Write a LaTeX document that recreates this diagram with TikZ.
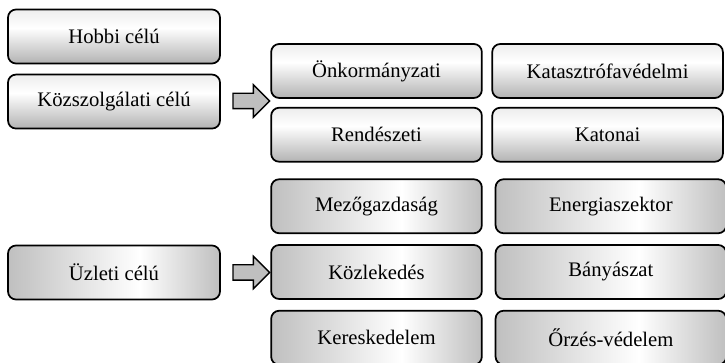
\documentclass[tikz,border=0pt]{standalone}
\usepackage{fontspec}
\setmainfont{Liberation Serif}
\usepackage{tikz}
\usetikzlibrary{positioning,shapes.arrows}

\pgfdeclareverticalshading{gloss}{100bp}{color(0bp)=(gray!60); color(25bp)=(gray!60); color(58bp)=(white); color(75bp)=(gray!14); color(100bp)=(gray!14)}
\pgfdeclarehorizontalshading{sheen}{100bp}{color(0bp)=(gray!50); color(25bp)=(gray!50); color(56bp)=(white); color(75bp)=(gray!50); color(100bp)=(gray!50)}

\begin{document}
\begin{tikzpicture}[x=0.75pt,y=-0.75pt,
    box/.style={draw,line width=1.3pt,rounded corners=6pt,inner sep=0pt,
      font=\fontsize{15.5}{18}\selectfont,minimum height=40.5pt},
    upbox/.style={box,shading=gloss},
    lowbox/.style={box,shading=sheen},
    leftw/.style={minimum width=159pt},
    midw/.style={minimum width=158pt},
    farw/.style={minimum width=173pt},
    blockarrow/.style={single arrow,draw,line width=1pt,fill=gray!50,
      single arrow head extend=6.5pt,single arrow tip angle=90,
      inner xsep=0pt,inner ysep=5.25pt,minimum height=27.5pt}]
  \useasboundingbox (0,0) rectangle (725,363);

  % kozcelu es hobbi
  \node[upbox,leftw] (hobbi) at (114,36.5) {Hobbi célú};
  \node[upbox,leftw] (kozsz) [below=7pt of hobbi] {Közszolgálati célú};
  \node[blockarrow] (nyil1) at (247.5,101) {};
  \node[upbox,midw] (onk) at (376.5,71) {Önkormányzati};
  \node[upbox,farw] (katv) [right=6.5pt of onk] {Katasztrófavédelmi};
  \node[upbox,midw] (rend) [below=6pt of onk] {Rendészeti};
  \node[upbox,farw] (katonai) [right=6.5pt of rend] {Katonai};

  % uzleti
  \node[lowbox,leftw] (uzleti) at (114,272.5) {Üzleti célú};
  \node[blockarrow] (nyil2) at (247.5,272.5) {};
  \node[lowbox,midw] (kozl) at (376.5,272) {Közlekedés};
  \node[lowbox,midw] (mezo) [above=7.5pt of kozl] {Mezőgazdaság};
  \node[lowbox,midw] (keres) [below=7.5pt of kozl] {Kereskedelem};
  \node[lowbox,farw] (energ) [right=9pt of mezo] {Energiaszektor};
  \node[lowbox,farw] (bany) [right=9pt of kozl] {Bányászat};
  \node[lowbox,farw] (orzes) [right=9pt of keres] {Őrzés-védelem};
\end{tikzpicture}
\end{document}
